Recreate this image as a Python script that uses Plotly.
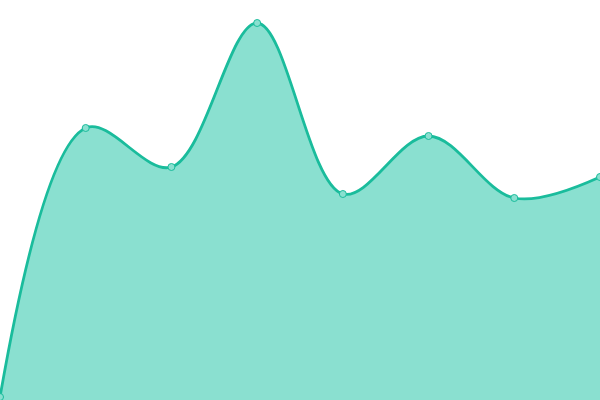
import plotly.graph_objects as go

# values (pixel height from the bottom edge)
x_values = [0, 1, 2, 3, 4, 5, 6, 7]
y_values = [3, 272, 233, 377, 206, 264, 202, 223]

line_color = '#1abc9c'
fill_color = '#8ae0d0'

fig = go.Figure()
fig.add_trace(go.Scatter(
    x=x_values, y=y_values,
    mode='lines+markers',
    line={'color': line_color, 'width': 2.8, 'shape': 'spline', 'smoothing': 1.0},
    fill='tozeroy', fillcolor=fill_color,
    marker={'size': 7, 'color': fill_color, 'line': {'color': line_color, 'width': 1}},
    cliponaxis=False,
    hoverinfo='skip',
))

fig.update_layout(
    width=600, height=400,
    margin={'l': 0, 'r': 0, 't': 0, 'b': 0},
    paper_bgcolor='white', plot_bgcolor='white',
    showlegend=False,
    xaxis={'visible': False, 'range': [0, 7], 'fixedrange': True},
    yaxis={'visible': False, 'range': [0, 400], 'fixedrange': True},
)

# page body has an 8px default margin, drop it so the chart fills the window
fig.write_html("out.html", config={'displayModeBar': False},
               post_script="document.body.style.margin='0';")
